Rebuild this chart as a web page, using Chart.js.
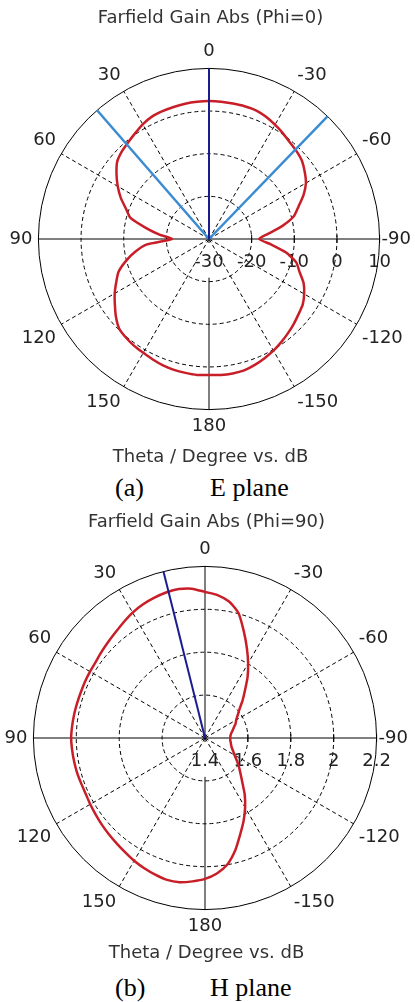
<!DOCTYPE html>
<html>
<head>
<meta charset="utf-8">
<script src="https://cdn.jsdelivr.net/npm/chart.js@4.4.1/dist/chart.umd.min.js"></script>
<style>
  body { margin: 0; background: #fff; width: 415px; height: 1002px; position: relative; overflow: hidden; }
  .box { position: absolute; left: 0; width: 415px; }
  .cap { position: absolute; font-family: "Liberation Serif", serif; font-size: 26px; line-height: 30px; color: #000; white-space: nowrap; }
</style>
</head>
<body>
<div class="box" style="top:0;height:471px"><canvas id="ePlane"></canvas></div>
<div class="cap" style="left:115px;top:473px">(a)</div>
<div class="cap" style="left:210px;top:473px">E plane</div>
<div class="box" style="top:504px;height:463px"><canvas id="hPlane"></canvas></div>
<div class="cap" style="left:115px;top:973px">(b)</div>
<div class="cap" style="left:210px;top:973px">H plane</div>
<script>
// theta in degrees, clockwise from the top (radar order)
const theta = [0, -5, -10, -15, -20, -25, -30, -35, -40, -45, -50, -55, -60, -65, -70, -75, -80, -85,
  -90, -95, -100, -105, -110, -115, -120, -125, -130, -135, -140, -145, -150, -155, -160, -165, -170, -175,
  180, 175, 170, 165, 160, 155, 150, 145, 140, 135, 130, 125, 120, 115, 110, 105, 100, 95,
  90, 85, 80, 75, 70, 65, 60, 55, 50, 45, 40, 35, 30, 25, 20, 15, 10, 5];

// E plane (Phi=0), dB
const gainE = [2.35, 2.31, 2.24, 2.24, 2.12, 1.65, 0.94, 0.24, -0.47, -0.94, -1.53, -2.59, -3.76, -5.53, -7.65, -9.41, -12.59, -16.12,
  -18.24, -15.41, -11.65, -8.82, -7.41, -5.53, -4.24, -3.18, -2.59, -1.88, -1.18, -0.47, 0.24, 0.82, 1.41, 1.88, 2.00, 2.00,
  1.88, 2.00, 1.88, 1.76, 1.53, 1.18, 0.82, 0.59, 0.24, -0.24, -1.53, -3.06, -4.47, -6.0, -7.41, -9.76, -12.35, -15.41,
  -21.29, -18.33, -14.94, -10.94, -9.29, -7.18, -5.29, -3.53, -1.88, -1.06, -0.47, 0.24, 1.06, 1.65, 1.88, 2.05, 2.19, 2.28];

// H plane (Phi=90)
const gainH = [2.081, 2.069, 2.046, 2.003, 1.929, 1.862, 1.802, 1.746, 1.690, 1.648, 1.610, 1.586, 1.568, 1.557, 1.543, 1.533, 1.524, 1.519,
  1.518, 1.518, 1.522, 1.526, 1.533, 1.545, 1.559, 1.580, 1.606, 1.634, 1.671, 1.723, 1.774, 1.826, 1.879, 1.943, 1.999, 2.034,
  2.057, 2.071, 2.083, 2.085, 2.078, 2.070, 2.061, 2.050, 2.041, 2.034, 2.028, 2.022, 2.018, 2.014, 2.015, 2.018, 2.020, 2.022,
  2.024, 2.022, 2.020, 2.018, 2.017, 2.018, 2.019, 2.021, 2.028, 2.036, 2.046, 2.060, 2.075, 2.087, 2.095, 2.102, 2.105, 2.099];

const ticksE = [-30, -20, -10, 0, 10];
const ticksH = [1.4, 1.6, 1.8, 2, 2.2];

// main lobe direction and 3 dB beam edges
const mainLobeE = [0];
const beamEdgesE = [41, -44];
const mainLobeH = [14];

const labelFont = 'DejaVu Sans';

// radar index for a theta angle
function idxFor(scale, deg) {
  const n = scale._pointLabels.length;
  return (((360 - deg) % 360) * n) / 360;
}

function line(c, p, q) {
  c.beginPath(); c.moveTo(p.x, p.y); c.lineTo(q.x, q.y); c.stroke();
}

const polarExtras = {
  id: 'polarExtras',
  beforeDatasetsDraw(chart, args, o) {
    const s = chart.scales.r, c = chart.ctx;
    const n = s._pointLabels.length;
    const R = s.drawingArea;
    c.save();
    c.strokeStyle = '#000';
    c.lineWidth = 1;
    // lower part of the 0-180 axis
    const r0 = s.getDistanceFromCenterForValue(o.ticks[1]) - 4;
    line(c, s.getPointPosition(n / 2, r0), s.getPointPosition(n / 2, R));
    // tick marks and tick labels on the -90 axis
    c.fillStyle = '#222';
    c.font = '18px ' + labelFont;
    c.textAlign = 'center';
    c.textBaseline = 'middle';
    o.ticks.forEach(v => {
      const p = s.getPointPosition(n / 4, s.getDistanceFromCenterForValue(v));
      line(c, {x: p.x, y: p.y - 4}, {x: p.x, y: p.y + 4});
      c.fillText(String(v), p.x, p.y + 23);
    });
    c.restore();
  },
  afterDatasetsDraw(chart, args, o) {
    const s = chart.scales.r, c = chart.ctx;
    const R = s.drawingArea;
    const ctr = {x: s.xCenter, y: s.yCenter};
    c.save();
    c.lineWidth = 2.5;
    c.strokeStyle = '#3a8bd2';
    (o.edges || []).forEach(d => line(c, ctr, s.getPointPosition(idxFor(s, d), R)));
    c.lineWidth = 2;
    c.strokeStyle = '#1c1c8e';
    (o.lobe || []).forEach(d => line(c, ctr, s.getPointPosition(idxFor(s, d), R)));
    c.restore();
  }
};

function makeChart(id, values, ticks, title, extras, pad, titlePad, subPad) {
  const min = ticks[0], max = ticks[ticks.length - 1];
  return new Chart(document.getElementById(id), {
    type: 'radar',
    data: {
      labels: theta,
      datasets: [{
        data: values,
        borderColor: '#c81e28',
        borderWidth: 2.5,
        pointRadius: 0,
        fill: false,
        tension: 0.2
      }]
    },
    options: {
      responsive: true,
      maintainAspectRatio: false,
      animation: false,
      layout: { padding: pad },
      plugins: {
        legend: { display: false },
        tooltip: { enabled: false },
        title: {
          display: true, text: title, color: '#333',
          font: { family: labelFont, size: 18, weight: 'normal' },
          padding: titlePad
        },
        subtitle: {
          display: true, text: 'Theta / Degree vs. dB', position: 'bottom', color: '#333',
          font: { family: labelFont, size: 18, weight: 'normal' },
          padding: subPad
        },
        polarExtras: extras
      },
      scales: {
        r: {
          min: min, max: max,
          ticks: { display: false, stepSize: ticks[1] - ticks[0] },
          grid: { circular: true, color: '#000', lineWidth: 1 },
          border: { dash: ctx => ctx.index === ticks.length - 1 ? [] : [4, 3] },
          angleLines: {
            color: '#000',
            lineWidth: ctx => (ctx.index % 6 || ctx.index === 36) ? 0 : 1,
            borderDash: ctx => ctx.index % 18 === 0 ? [] : [4, 3]
          },
          pointLabels: {
            color: '#222',
            padding: ctx => ctx.index === 18 ? 2 : 6,
            font: ctx => ({ family: labelFont, size: ctx.index % 6 ? 1 : 18 }),
            callback: (label, i) => i % 6 ? '' : String(label)
          }
        }
      }
    },
    plugins: [polarExtras]
  });
}

makeChart('ePlane', gainE, ticksE, 'Farfield Gain Abs (Phi=0)',
  { ticks: ticksE, lobe: mainLobeE, edges: beamEdgesE },
  { left: 9, right: 3, top: 0, bottom: 0 }, { top: 7.2, bottom: 5.2 }, { top: 0.8, bottom: 3.2 });

makeChart('hPlane', gainH, ticksH, 'Farfield Gain Abs (Phi=90)',
  { ticks: ticksH, lobe: mainLobeH, edges: [] },
  { left: 4, right: 6, top: 0, bottom: 0 }, { top: 7.2, bottom: 1.2 }, { top: 0, bottom: 2.4 });
</script>
</body>
</html>
